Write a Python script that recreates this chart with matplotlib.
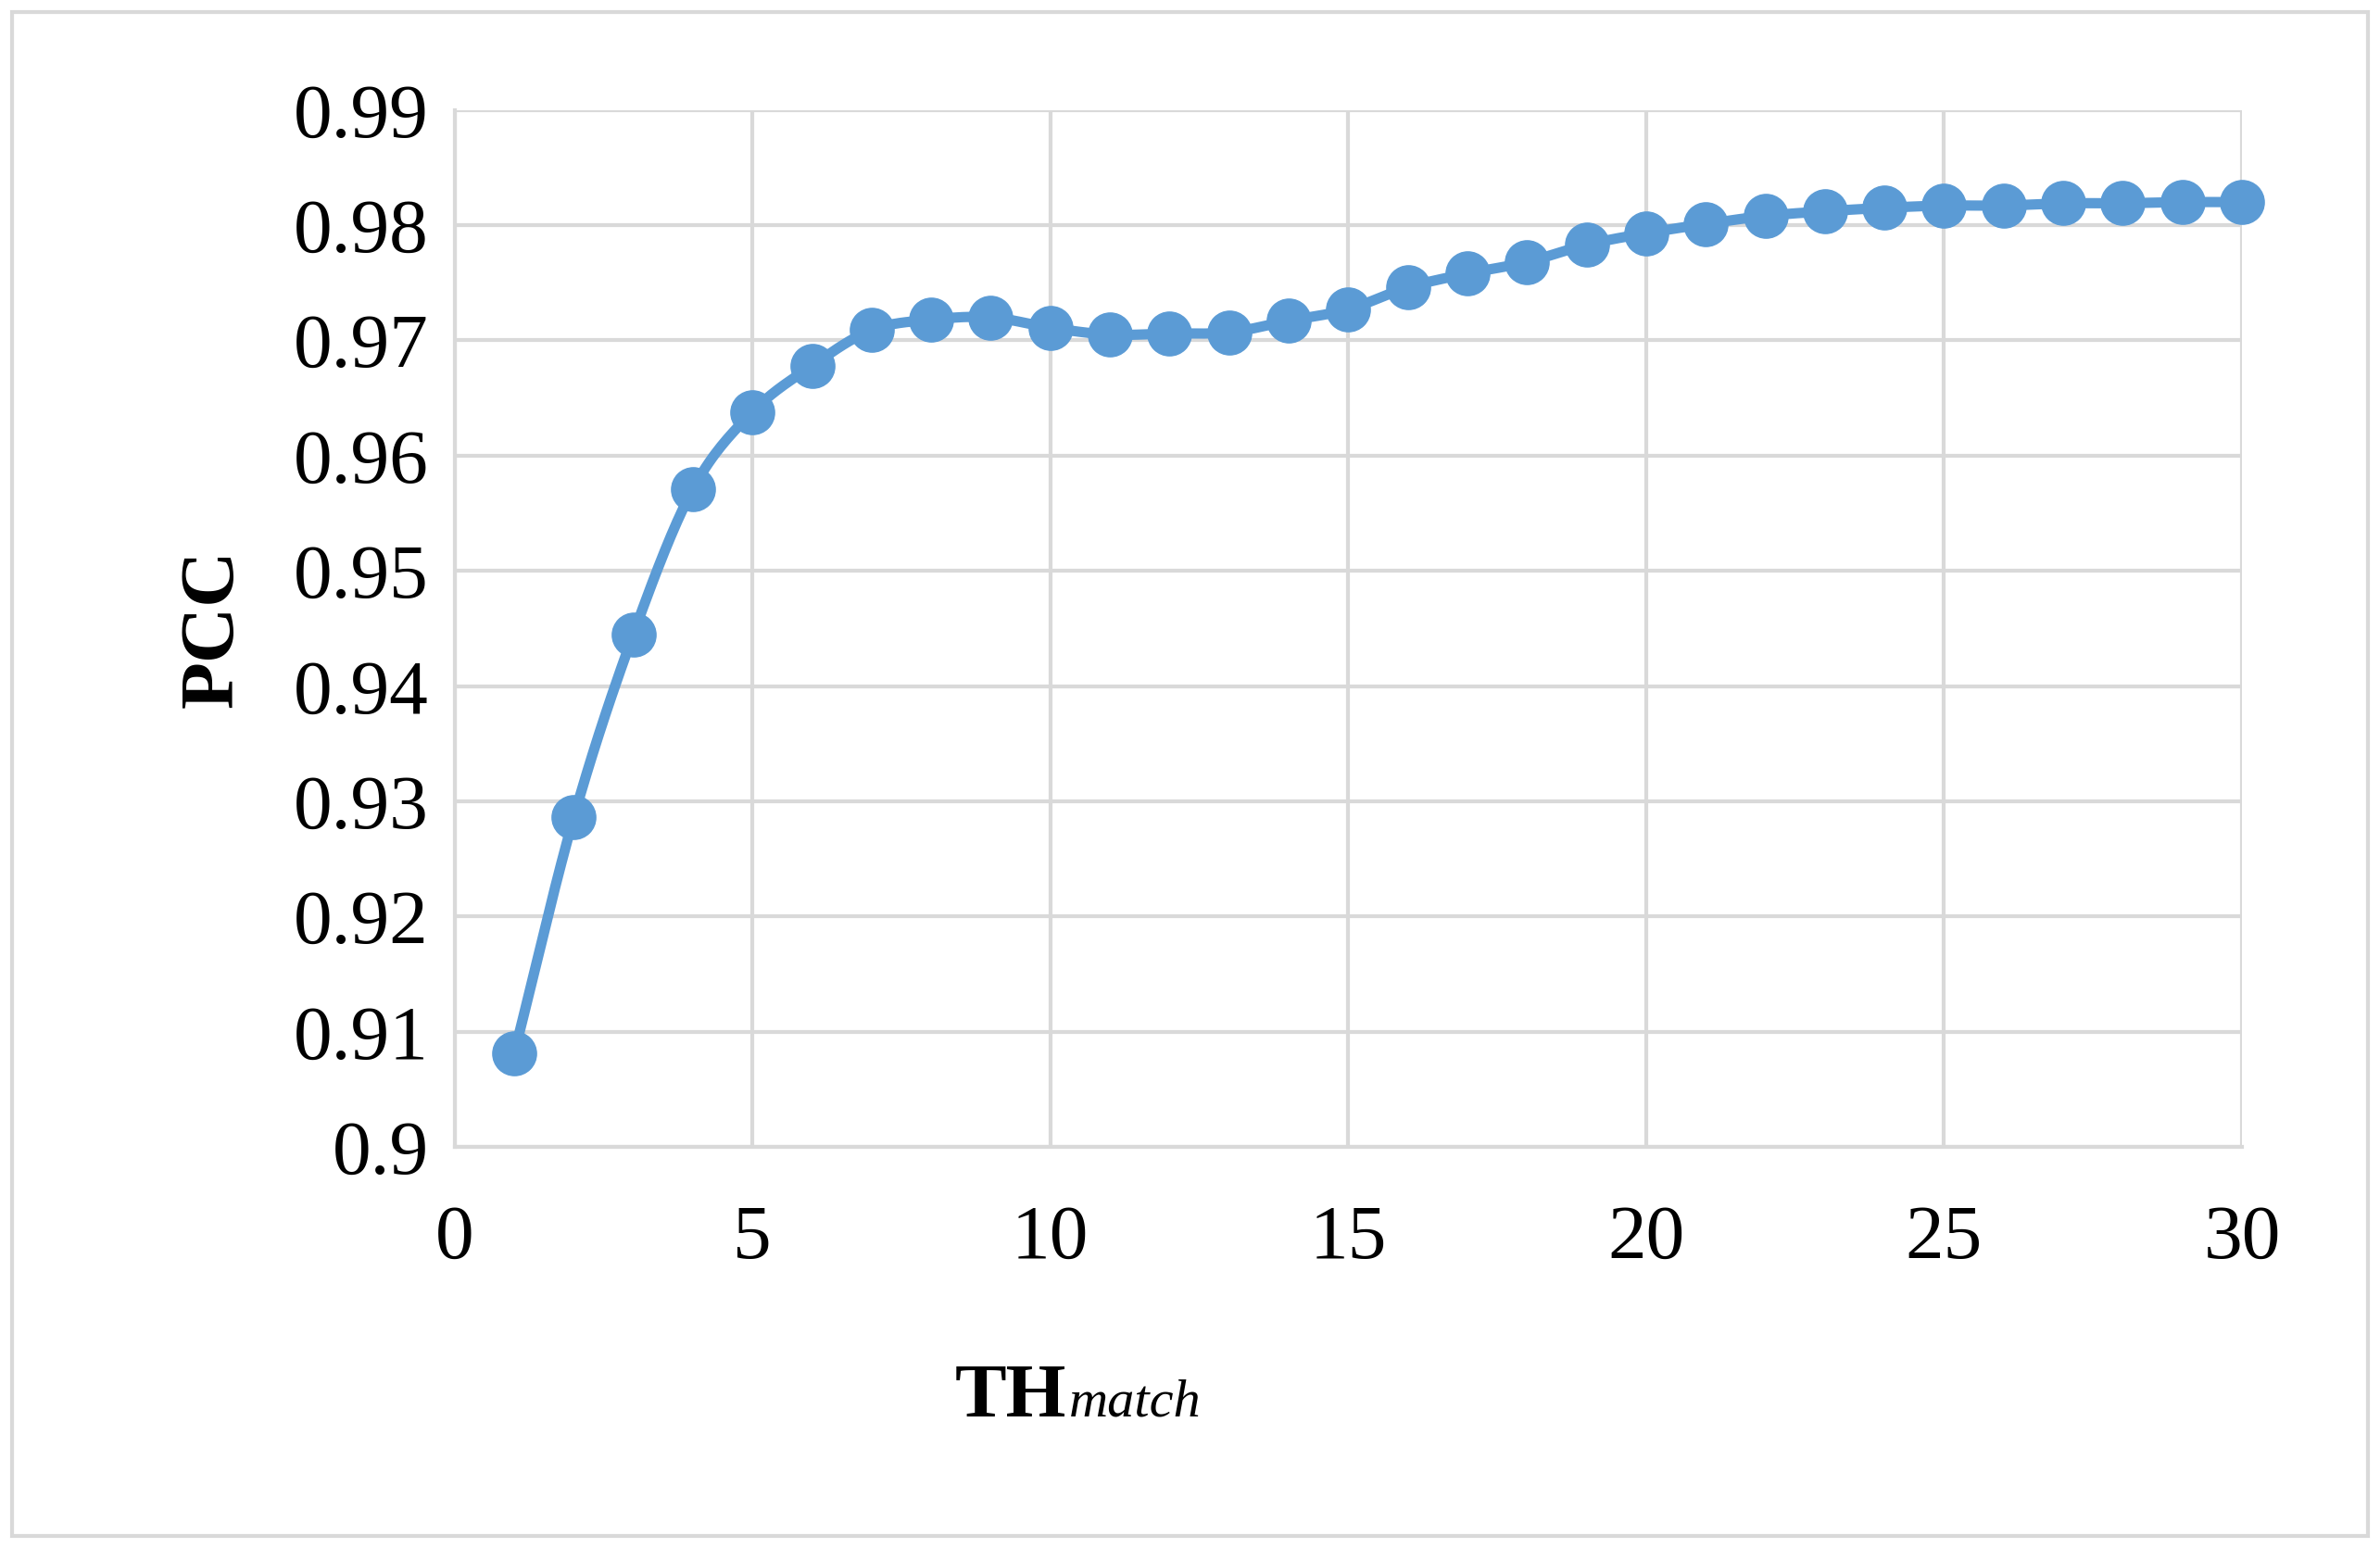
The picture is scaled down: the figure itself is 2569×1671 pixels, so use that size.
import matplotlib.pyplot as plt
import numpy as np
from matplotlib.patches import Rectangle

th = list(range(1, 31))
pcc = [0.9081, 0.9286, 0.9445, 0.9571, 0.9638, 0.9678, 0.9709, 0.9718, 0.9720, 0.9711,
       0.9705, 0.9706, 0.9707, 0.9717, 0.9727, 0.9746, 0.9758, 0.9768, 0.9783, 0.9793,
       0.9801, 0.9808, 0.9812, 0.9815, 0.9817, 0.9817, 0.9819, 0.9819, 0.9820, 0.9820]

def smooth(x, y, n=20):
    # catmull-rom curve through the points, like Excel's smoothed line
    x = np.asarray(x, float); y = np.asarray(y, float)
    px = np.concatenate([[2*x[0]-x[1]], x, [2*x[-1]-x[-2]]])
    py = np.concatenate([[2*y[0]-y[1]], y, [2*y[-1]-y[-2]]])
    t = np.linspace(0, 1, n)[:, None]
    xs, ys = [], []
    for i in range(1, len(px)-2):
        for p, out in ((px, xs), (py, ys)):
            p0, p1, p2, p3 = p[i-1], p[i], p[i+1], p[i+2]
            c = 0.5*((2*p1) + (-p0+p2)*t + (2*p0-5*p1+4*p2-p3)*t**2 + (-p0+3*p1-3*p2+p3)*t**3)
            out.extend(c.ravel())
    return xs, ys

plt.rcParams['font.family'] = ['Liberation Serif', 'DejaVu Serif']
fig = plt.figure(figsize=(25.69, 16.71), dpi=100)
ax = fig.add_axes([0.191, 0.259, 0.751, 0.670])
color = '#5B9BD5'
sx, sy = smooth(th, pcc)
ax.plot(sx, sy, color=color, lw=8, zorder=3, clip_on=False)
ax.plot(th, pcc, 'o', color=color, ms=34, zorder=4, clip_on=False)

ax.set_xlim(0, 30)
ax.set_ylim(0.9, 0.99)
ax.set_xticks(range(0, 31, 5))
ax.set_yticks(np.arange(0.9, 0.9901, 0.01))
ax.set_yticklabels(['0.9'] + ['%.2f' % v for v in np.arange(0.91, 0.9901, 0.01)])
ax.tick_params(labelsize=60, length=0, pad=20)
ax.tick_params(axis='x', pad=45)
ax.grid(color='#D9D9D9', lw=3)
for s in ax.spines.values():
    s.set_visible(False)
ax.spines['left'].set_visible(True); ax.spines['left'].set_color('#D9D9D9'); ax.spines['left'].set_linewidth(3)
ax.spines['bottom'].set_visible(True); ax.spines['bottom'].set_color('#D9D9D9'); ax.spines['bottom'].set_linewidth(3)
ax.set_axisbelow(True)

ax.set_ylabel('PCC', fontsize=60, fontweight='bold', labelpad=35)
fig.text(0.448, 0.085, 'TH', fontsize=60, fontweight='bold', ha='right')
fig.text(0.449, 0.085, 'match', fontsize=42, style='italic', ha='left')

fig.patches.append(Rectangle((0.005, 0.008), 0.99, 0.984, transform=fig.transFigure,
                             fill=False, ec='#D9D9D9', lw=3))
fig.savefig('out.png', dpi=100)
